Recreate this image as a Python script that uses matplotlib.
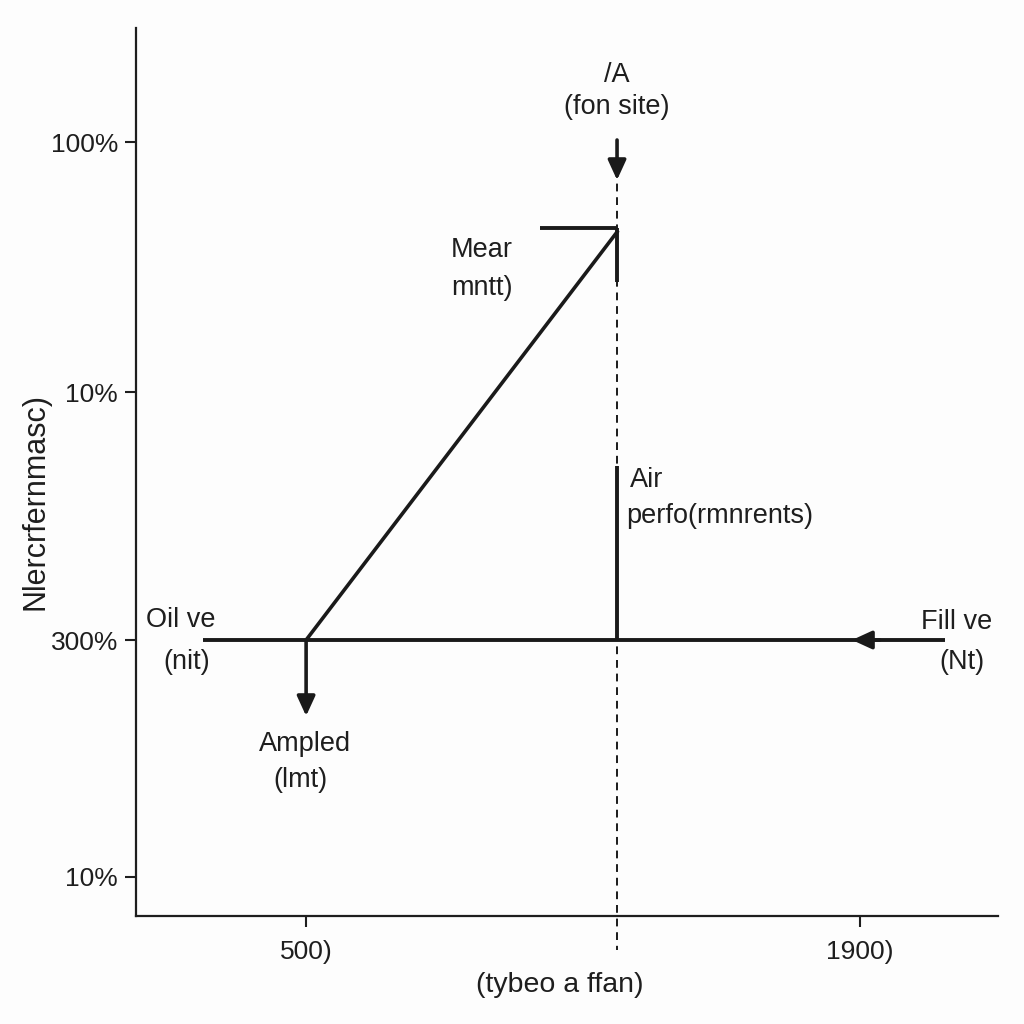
import matplotlib
matplotlib.use("Agg")
import matplotlib.pyplot as plt

plt.rcParams['font.family'] = ['Liberation Sans', 'DejaVu Sans']

# Axis ticks
xtick_pos = [500, 1900]
xtick_labels = ["500)", "1900)"]
ytick_pos = [39, 276, 524, 774]
ytick_labels = ["10%", "300%", "10%", "100%"]

# Lines (x, y values)
base_x = [240, 2115]
base_y = [276, 276]
diag_x = [500, 1286]
diag_y = [276, 684]
cap_x = [1091, 1286]
cap_y = [688, 688]
cap_vx = [1286, 1286]
cap_vy = [688, 634]
dash_x = [1286, 1286]
dash_y = [746, -34]
air_x = [1286, 1286]
air_y = [450, 276]

# Arrows: (start, end)
arrow_top = ((1286, 776), (1286, 736))
arrow_down = ((500, 276), (500, 200))
arrow_left = ((1950, 276), (1880, 276))

# Annotations
labels = [
    ("/A", 1286, 841, 'center'),
    ("(fon site)", 1286, 809, 'center'),
    ("Mear", 945, 666, 'center'),
    ("mntt)", 945, 628, 'center'),
    ("Air", 1319, 436, 'left'),
    ("perfo(rmnrents)", 1309, 400, 'left'),
    ("Oil ve", 182, 296, 'center'),
    ("(nit)", 198, 254, 'center'),
    ("Ampled", 497, 172, 'center'),
    ("(lmt)", 485, 136, 'center'),
    ("Fill ve", 2145, 294, 'center'),
    ("(Nt)", 2157, 254, 'center'),
]

fig = plt.figure(figsize=(10.24, 10.24), dpi=100, facecolor='#fdfdfd')
ax = fig.add_axes([136/1024, 108/1024, 862/1024, 888/1024])
ax.set_facecolor('#fdfdfd')
ax.set_xlim(70, 2249)
ax.set_ylim(0, 888)

col = '#1a1a1a'
ax.plot(base_x, base_y, color=col, lw=2.8, solid_capstyle='butt')
ax.plot(diag_x, diag_y, color=col, lw=2.6)
ax.plot(cap_x, cap_y, color=col, lw=2.8, solid_capstyle='butt')
ax.plot(cap_vx, cap_vy, color=col, lw=2.8, solid_capstyle='butt')
ax.plot(dash_x, dash_y, color=col, lw=1.4, ls=(0, (4, 3)), clip_on=False)
ax.plot(air_x, air_y, color=col, lw=2.8, solid_capstyle='butt')

for (s, e) in [arrow_top, arrow_down, arrow_left]:
    ax.annotate('', xy=e, xytext=s,
                arrowprops=dict(arrowstyle='-|>,head_width=0.55,head_length=1.2',
                                lw=2.6, color=col, shrinkA=0, shrinkB=0))

for t, x, y, ha in labels:
    ax.text(x, y, t, ha=ha, va='center', fontsize=19.5, color='#1e1e1e')

for s in ['top', 'right']:
    ax.spines[s].set_visible(False)
for s in ['left', 'bottom']:
    ax.spines[s].set_linewidth(1.6)
    ax.spines[s].set_color('#1e1e1e')

ax.set_xticks(xtick_pos)
ax.set_xticklabels(xtick_labels)
ax.set_yticks(ytick_pos)
ax.set_yticklabels(ytick_labels)
ax.tick_params(axis='both', direction='out', length=8, width=1.5, colors='#1e1e1e',
               labelsize=19, pad=5)
ax.tick_params(axis='x', pad=9)

fig.text(560/1024, 1 - 985/1024, "(tybeo a ffan)", ha='center', va='center',
         fontsize=20.5, color='#1e1e1e')
fig.text(36/1024, 1 - 502/1024, "Nlercrfernmasc)", ha='center', va='center',
         rotation=90, fontsize=22, color='#1e1e1e')

fig.savefig("out.png", dpi=100, facecolor=fig.get_facecolor())
